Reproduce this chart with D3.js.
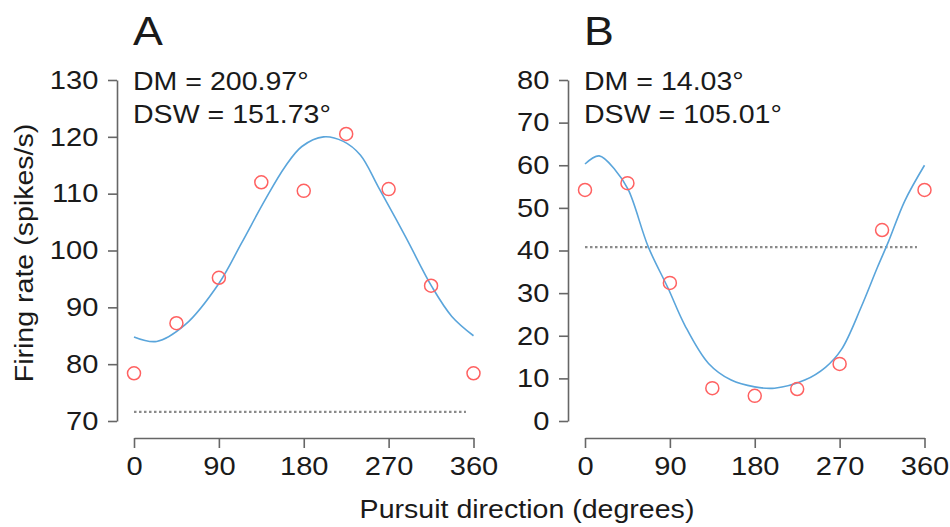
<!DOCTYPE html>
<html>
<head>
<meta charset="utf-8">
<script src="https://cdn.jsdelivr.net/npm/d3@7"></script>
<style>
  body { margin: 0; background: #fff; }
  svg { display: block; font-family: "Liberation Sans", Arial, sans-serif; }
</style>
</head>
<body>
<div class="mainCont"></div>
<script>
// observed firing rates at each pursuit direction
var directions = [0, 45, 90, 135, 180, 225, 270, 315, 360];
var ratesA = [78.4, 87.2, 95.2, 112.0, 110.5, 120.5, 110.8, 93.8, 78.4];
var ratesB = [54.2, 55.8, 32.4, 7.7, 5.9, 7.5, 13.4, 44.8, 54.2];

// fitted tuning curves
var fitDirA = [0, 24, 54, 90, 114, 139, 160, 178, 201, 222, 240, 259, 288, 316, 337, 360];
var fitRateA = [84.8, 84.0, 86.9, 94.2, 101.3, 108.9, 114.7, 118.3, 120.0, 119.2, 116.8, 111.2, 102.4, 93.6, 88.4, 85.0];
var fitDirB = [0, 15, 32, 46, 67, 88, 106, 131, 155, 180, 201, 233, 255, 272, 293, 310, 322, 339, 360];
var fitRateB = [60.3, 62.2, 58.9, 54.2, 40.9, 31.2, 22.4, 13.5, 9.6, 8.0, 7.7, 9.6, 12.6, 16.8, 26.8, 36.0, 42.2, 51.6, 60.0];

// baseline (dotted) levels
var baselineA = 71.6;
var baselineB = 40.8;

var xTicks = [0, 90, 180, 270, 360];
var yTicksA = [70, 80, 90, 100, 110, 120, 130];
var yTicksB = [0, 10, 20, 30, 40, 50, 60, 70, 80];

var width = 950, height = 527;
var sx = 1.12; // text in the figure is a bit wider than the font

var svg = d3.select(".mainCont").append("svg")
    .attr("width", width)
    .attr("height", height);

function label(x, y, txt, size, anchor, rotate) {
    var t = "translate(" + x + "," + y + ")";
    if (rotate) t += " rotate(" + rotate + ")";
    t += " scale(" + sx + ",1)";
    svg.append("text")
        .attr("transform", t)
        .attr("text-anchor", anchor || "start")
        .attr("font-size", size)
        .attr("fill", "#1a1a1a")
        .text(txt);
}

function panel(opt) {
    var x = d3.scaleLinear().domain([0, 360]).range([opt.left, opt.left + 339.5]);
    var y = d3.scaleLinear().domain(opt.yDomain).range([421, 80]);

    // y axis
    var ya = svg.append("g")
        .attr("transform", "translate(" + (opt.left - 17) + ",0)")
        .call(d3.axisLeft(y).tickValues(opt.yTicks).tickSize(9).tickSizeOuter(0).tickPadding(9));
    // x axis
    var xa = svg.append("g")
        .attr("transform", "translate(0,438)")
        .call(d3.axisBottom(x).tickValues(xTicks).tickSize(10).tickSizeOuter(0).tickPadding(9));

    [ya, xa].forEach(function(a) {
        a.select(".domain").attr("stroke", "#666").attr("stroke-width", 1.6);
        a.selectAll(".tick line").attr("stroke", "#666").attr("stroke-width", 1.6);
        a.selectAll(".tick text")
            .attr("font-size", 26)
            .attr("font-family", "Liberation Sans, Arial, sans-serif")
            .attr("fill", "#1a1a1a")
            .attr("transform", "scale(" + sx + ",1)");
    });
    ya.selectAll(".tick text").attr("x", -18 / sx - 0.5);

    // dotted baseline
    svg.append("line")
        .attr("x1", x(0)).attr("x2", x(352))
        .attr("y1", y(opt.baseline)).attr("y2", y(opt.baseline))
        .attr("stroke", "#8a8a8a")
        .attr("stroke-width", 2.2)
        .attr("stroke-dasharray", "2.5,2.5");

    // fitted curve
    var line = d3.line()
        .x(function(d) { return x(d[0]); })
        .y(function(d) { return y(d[1]); })
        .curve(d3.curveCatmullRom.alpha(0.5));
    svg.append("path")
        .datum(d3.zip(opt.fitDir, opt.fitRate))
        .attr("d", line)
        .attr("fill", "none")
        .attr("stroke", "#5aa5db")
        .attr("stroke-width", 1.6);

    // data points
    svg.selectAll(null)
        .data(d3.zip(directions, opt.rates))
        .enter().append("circle")
        .attr("cx", function(d) { return x(d[0]); })
        .attr("cy", function(d) { return y(d[1]); })
        .attr("r", 6.5)
        .attr("fill", "none")
        .attr("stroke", "#ff6161")
        .attr("stroke-width", 1.5);

    label(opt.left - 1, 45, opt.letter, 40, "start");
    label(opt.left - 1, 90, opt.dm, 25.5, "start");
    label(opt.left - 1, 123, opt.dsw, 25.5, "start");
}

panel({
    left: 134, yDomain: [70, 130], yTicks: yTicksA,
    rates: ratesA, fitDir: fitDirA, fitRate: fitRateA, baseline: baselineA,
    letter: "A", dm: "DM = 200.97°", dsw: "DSW = 151.73°"
});
panel({
    left: 585, yDomain: [0, 80], yTicks: yTicksB,
    rates: ratesB, fitDir: fitDirB, fitRate: fitRateB, baseline: baselineB,
    letter: "B", dm: "DM = 14.03°", dsw: "DSW = 105.01°"
});

label(33, 253, "Firing rate (spikes/s)", 25.5, "middle", -90);
label(527, 518, "Pursuit direction (degrees)", 25.5, "middle");
</script>
</body>
</html>
